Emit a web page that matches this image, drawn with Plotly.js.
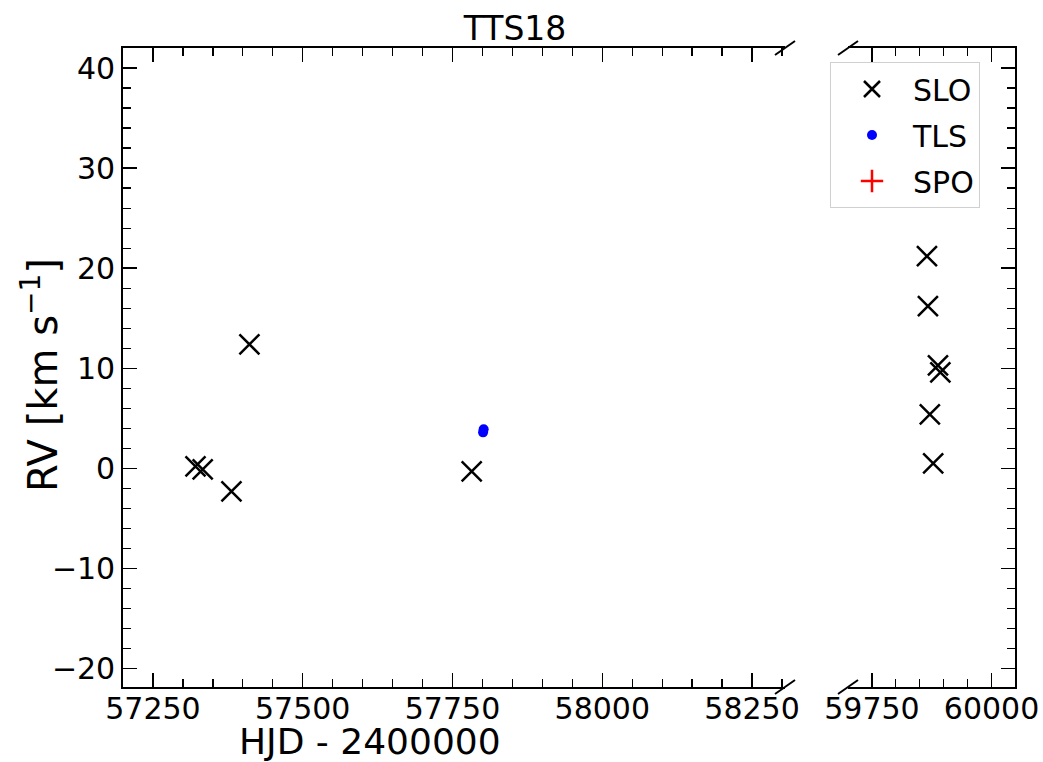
<!DOCTYPE html>
<html>
<head>
<meta charset="utf-8">
<script src="https://cdn.plot.ly/plotly-3.0.1.min.js"></script>
<style>
  html, body { margin: 0; padding: 0; background: #fff; }
  #chart { width: 1043px; height: 762px; }
</style>
</head>
<body>
<div id="chart"></div>
<script>
// Radial velocities of TTS18 (HJD - 2400000, km/s)
const sloEarlyHjd = [57321, 57333, 57381, 57411, 57782];
const sloEarlyRv  = [0.2, -0.1, -2.3, 12.4, -0.3];
const sloLateHjd  = [59865, 59867, 59888, 59893, 59871, 59878];
const sloLateRv   = [21.2, 16.2, 10.3, 9.6, 5.4, 0.5];
const tlsHjd = [57801, 57802];
const tlsRv  = [3.6, 3.9];
const spoHjd = [];
const spoRv  = [];

const leftTicks  = [57250, 57500, 57750, 58000, 58250];
const rightTicks = [59750, 60000];
const rvTicks    = [-20, -10, 0, 10, 20, 30, 40];

const FONT = 'DejaVu Sans, Liberation Sans, sans-serif';
const M = { l: 123, r: 28, t: 48, b: 75 };
const W = 1043, H = 762;
const plotW = W - M.l - M.r;
const plotH = H - M.t - M.b;
const leftEnd = (785 - M.l) / plotW;
const rightStart = (848 - M.l) / plotW;

const sloStyle = { symbol: 'x-thin-open', size: 20, color: '#000', line: { color: '#000', width: 2.5 } };
const tlsStyle = { symbol: 'circle', size: 10, color: '#0000ff' };
const spoStyle = { symbol: 'cross-thin-open', size: 18, color: '#ff0000', line: { color: '#ff0000', width: 2.5 } };

// an empty series still needs one placeholder so that its legend entry is drawn
const orPlaceholder = a => (a.length ? a : [null]);

const traces = [
  { x: sloEarlyHjd, y: sloEarlyRv, xaxis: 'x', yaxis: 'y', mode: 'markers', name: 'SLO',
    marker: sloStyle, legendgroup: 'slo' },
  { x: sloLateHjd, y: sloLateRv, xaxis: 'x2', yaxis: 'y2', mode: 'markers', name: 'SLO',
    marker: sloStyle, legendgroup: 'slo', showlegend: false },
  { x: tlsHjd, y: tlsRv, xaxis: 'x', yaxis: 'y', mode: 'markers', name: 'TLS',
    marker: tlsStyle, legendgroup: 'tls' },
  { x: orPlaceholder(spoHjd), y: orPlaceholder(spoRv), xaxis: 'x', yaxis: 'y', mode: 'markers', name: 'SPO',
    marker: spoStyle, legendgroup: 'spo' }
];

const tickFont = { family: FONT, size: 30, color: '#000' };
const axisCommon = {
  showline: true, linecolor: '#000', linewidth: 1.8,
  ticks: 'inside', ticklen: 14, tickwidth: 1.5, tickcolor: '#000',
  showgrid: false, zeroline: false, tickfont: tickFont
};
const minorX = { dtick: 50, ticks: 'inside', ticklen: 8, tickwidth: 1.3, tickcolor: '#000' };
const minorY = { dtick: 2, ticks: 'inside', ticklen: 8, tickwidth: 1.3, tickcolor: '#000' };

// Diagonal break marks at the panel edges
function slash(xp, yp) {
  return {
    type: 'line', xref: 'paper', yref: 'paper',
    xsizemode: 'pixel', ysizemode: 'pixel', xanchor: xp, yanchor: yp,
    x0: -10, x1: 10, y0: -7, y1: 7,
    line: { color: '#000', width: 2 }
  };
}

const layout = {
  width: W, height: H,
  margin: M,
  paper_bgcolor: '#fff', plot_bgcolor: '#fff',
  font: { family: FONT, color: '#000' },
  title: { text: 'TTS18', font: { family: FONT, size: 33, color: '#000' },
           x: 515 / W, xref: 'container', xanchor: 'center', y: 1 - 28 / H, yref: 'container', yanchor: 'middle' },
  showlegend: true,
  legend: {
    x: (830 - M.l) / plotW, y: 1 - 14 / plotH, xanchor: 'left', yanchor: 'top',
    bgcolor: 'rgba(255,255,255,0.85)', bordercolor: '#d0d0d0', borderwidth: 1,
    font: { family: FONT, size: 30, color: '#000' },
    tracegroupgap: 4, itemwidth: 72
  },
  xaxis: Object.assign({}, axisCommon, {
    domain: [0, leftEnd], range: [57200, 58305],
    tickvals: leftTicks, ticktext: leftTicks.map(String),
    minor: minorX, mirror: 'ticks', anchor: 'y', ticklabelstandoff: -6
  }),
  yaxis: Object.assign({}, axisCommon, {
    domain: [0, 1], range: [-21.84, 42], anchor: 'x',
    tickvals: rvTicks, ticktext: rvTicks.map(v => v < 0 ? '\u2212' + Math.abs(v) : String(v)),
    minor: minorY
  }),
  xaxis2: Object.assign({}, axisCommon, {
    domain: [rightStart, 1], range: [59700, 60049], anchor: 'y2',
    tickvals: rightTicks, ticktext: rightTicks.map(String),
    minor: minorX, mirror: 'ticks', ticklabelstandoff: -6
  }),
  yaxis2: Object.assign({}, axisCommon, {
    domain: [0, 1], range: [-21.84, 42], anchor: 'x2', side: 'right',
    tickvals: rvTicks, showticklabels: false, minor: minorY
  }),
  annotations: [
    { text: 'HJD - 2400000', xref: 'paper', yref: 'paper', showarrow: false,
      x: (370 - M.l) / plotW, y: -(742 - (H - M.b)) / plotH,
      xanchor: 'center', yanchor: 'middle', font: { family: FONT, size: 36, color: '#000' } },
    { text: 'RV [km s<sup>\u22121</sup>]', xref: 'paper', yref: 'paper', showarrow: false,
      x: (40 - M.l) / plotW, y: 1 - (375 - M.t) / plotH, textangle: -90,
      xanchor: 'center', yanchor: 'middle', font: { family: FONT, size: 40, color: '#000' } }
  ],
  shapes: [
    slash(leftEnd, 1), slash(leftEnd, 0),
    slash(rightStart, 1), slash(rightStart, 0)
  ]
};

Plotly.newPlot('chart', traces, layout, { staticPlot: true, displayModeBar: false });
</script>
</body>
</html>
